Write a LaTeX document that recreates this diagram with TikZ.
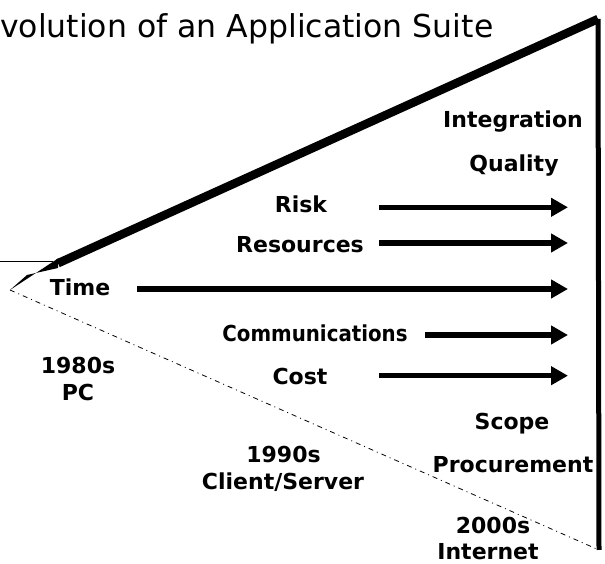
\documentclass[tikz,border=0pt]{standalone}
\usepackage{fontspec}
\setmainfont{DejaVu Sans}
\newfontfamily\condfont[FakeStretch=0.9]{DejaVu Sans}
\usetikzlibrary{arrows.meta}
\begin{document}
\begin{tikzpicture}[x=1pt,y=1pt,
  lbl/.style={font=\fontsize{22}{27}\selectfont\bfseries, inner sep=0pt, anchor=base},
  bigarrow/.style={line width=5.5pt, -{Triangle[length=17pt,width=18pt]}}
]
\useasboundingbox (0,0) rectangle (605,564);
% title
\node[anchor=base west, inner sep=0pt, font=\fontsize{31.5}{36}\selectfont] (title) at (0,526) {volution of an Application Suite};
% frame coordinates
\coordinate (apex) at (10,274);
\coordinate (top) at (598,545);
\coordinate (bot) at (599,14);
\coordinate (w1) at (58,305.5);
\coordinate (w2) at (58,296);
\coordinate (wl) at (27,289);
\coordinate (wm) at (58,300.75);
\coordinate (lft) at (0,302.3);
\coordinate (stub) at (53,302.3);
% thin stub line
\draw[line width=0.8pt] (lft) -- (stub);
% thick edge with wedge near apex
\fill (apex) -- (w1) -- (w2) -- (wl) -- cycle;
\draw[line width=8.5pt] (wm) -- (top);
\draw[line width=5pt] (top) -- (bot);
% dashed lower edge
\draw[line width=0.8pt, dash pattern=on 5pt off 4pt on 1pt off 4pt] (apex) -- (bot);
% labels
\node[lbl] (integ) at (513,436) {Integration};
\node[lbl] (qual) at (514,392) {Quality};
\node[lbl] (risk) at (301,351) {Risk};
\node[lbl] (res) at (300,311) {Resources};
\node[lbl] (time) at (80,268) {Time};
\node[lbl, font=\fontsize{22}{27}\condfont\bfseries] (comm) at (315,222) {Communications};
\node[lbl] (cost) at (300,179) {Cost};
\node[lbl] (y80) at (78,190) {1980s};
\node[lbl] (pc) at (78,163) {PC};
\node[lbl] (scope) at (512,134) {Scope};
\node[lbl] (proc) at (513,91) {Procurement};
\node[lbl] (y90) at (283.5,101) {1990s};
\node[lbl] (cs) at (283,74) {Client/Server};
\node[lbl] (y00) at (493,30) {2000s};
\node[lbl] (inet) at (488,4) {Internet};
% arrow end points
\coordinate (e1) at (568,356.7);
\coordinate (e2) at (568,321);
\coordinate (e3) at (568,275);
\coordinate (e4) at (568,229);
\coordinate (e5) at (568,188.3);
\coordinate (s1) at (379,356.7);
\coordinate (s2) at (379,321);
\coordinate (s3) at (137,275);
\coordinate (s4) at (425,229);
\coordinate (s5) at (379,188.3);
\draw[bigarrow] (s1) -- (e1);
\draw[bigarrow] (s2) -- (e2);
\draw[bigarrow] (s3) -- (e3);
\draw[bigarrow] (s4) -- (e4);
\draw[bigarrow] (s5) -- (e5);
\end{tikzpicture}
\end{document}
